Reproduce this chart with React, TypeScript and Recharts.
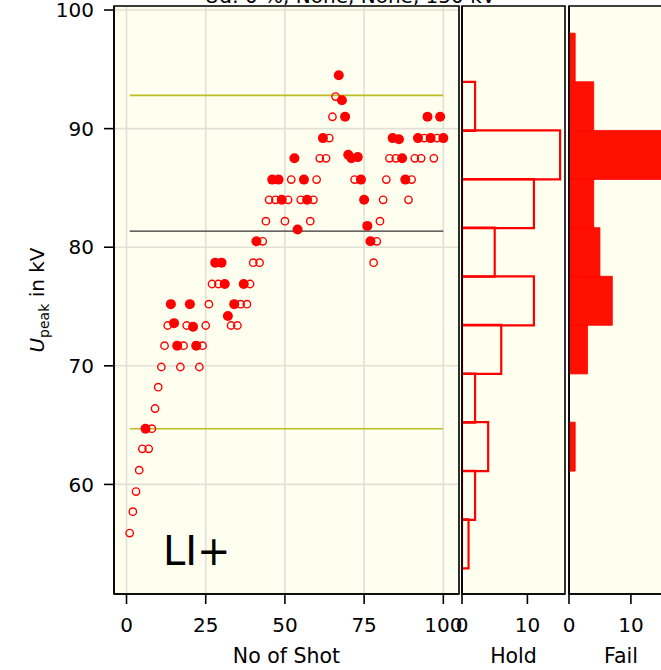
import React from 'react'
import {
  ScatterChart,
  Scatter,
  BarChart,
  Bar,
  XAxis,
  YAxis,
  CartesianGrid,
  ReferenceLine,
  ReferenceArea,
} from 'recharts'

// shots that held, and their peak voltage in kV
const holdShots = [
  1, 2, 3, 4, 5, 7, 8, 9, 10, 11, 12, 13, 17, 18, 19, 23, 24, 25, 26, 27, 29, 33, 35, 36, 38, 39, 40, 42, 43, 44,
  45, 47, 50, 51, 52, 55, 58, 59, 60, 61, 63, 64, 65, 66, 72, 78, 79, 80, 81, 82, 83, 85, 89, 90, 91, 93, 94, 97, 98,
]
const holdVolts = [
  55.9, 57.7, 59.4, 61.2, 63.0, 63.0, 64.7, 66.4, 68.2, 69.9, 71.7, 73.4, 69.9, 71.7, 73.4, 69.9, 71.7, 73.4, 75.2,
  76.9, 76.9, 73.4, 73.4, 75.2, 75.2, 76.9, 78.7, 78.7, 80.5, 82.2, 84.0, 84.0, 82.2, 84.0, 85.7, 84.0, 82.2, 84.0,
  85.7, 87.5, 87.5, 89.2, 91.0, 92.7, 85.7, 78.7, 80.5, 82.2, 84.0, 85.7, 87.5, 87.5, 84.0, 85.7, 87.5, 87.5, 89.2,
  87.5, 89.2,
]

// shots that failed (breakdown)
const failShots = [
  6, 14, 15, 16, 20, 21, 22, 28, 30, 31, 32, 34, 37, 41, 46, 48, 49, 53, 54, 56, 57, 62, 67, 68, 69, 70, 71, 73, 74,
  75, 76, 77, 84, 86, 87, 88, 92, 95, 96, 99, 100,
]
const failVolts = [
  64.7, 75.2, 73.6, 71.7, 75.2, 73.3, 71.7, 78.7, 78.7, 76.9, 74.2, 75.2, 76.9, 80.5, 85.7, 85.7, 84.0, 87.5, 81.5,
  85.7, 84.0, 89.2, 94.5, 92.4, 91.0, 87.8, 87.5, 87.6, 85.7, 84.0, 81.8, 80.5, 89.2, 89.1, 87.5, 85.7, 89.2, 91.0,
  89.2, 91.0, 89.2,
]

// histogram bins (centre in kV) and counts
const binMids = [55.0, 59.1, 63.2, 67.3, 71.4, 75.5, 79.6, 83.7, 87.8, 91.9, 96.0]
const holdCounts = [1, 2, 4, 2, 6, 11, 5, 11, 15, 2, 0]
const failCounts = [0, 0, 1, 0, 3, 7, 5, 4, 16, 4, 1]

const shotTicks = [0, 25, 50, 75, 100]
const voltTicks = [60, 70, 80, 90, 100]
const countTicks = [0, 10]

const upperLine = 92.8
const meanLine = 81.35
const lowerLine = 64.7
const lineFrom = 1
const lineTo = 100

const X_DOMAIN: [number, number] = [-3.95, 104.95]
const Y_DOMAIN: [number, number] = [50.76, 100.34]
const HOLD_MAX = 15.75
const FAIL_MAX = 16.8

const FONT = 'DejaVu Sans'
const BG = '#fffff0'
const RED = '#ff0000'
const tickStyle = { fill: '#000', fontSize: 20, fontFamily: FONT }

const holdData = holdShots.map((x, i) => ({ x, y: holdVolts[i] }))
const failData = failShots.map((x, i) => ({ x, y: failVolts[i] }))
const histData = binMids.map((mid, i) => ({ mid, hold: holdCounts[i], fail: failCounts[i] }))

const openDot = (p: any) => <circle cx={p.cx} cy={p.cy} r={3.7} fill="none" stroke={RED} strokeWidth={1.4} />
const fullDot = (p: any) => <circle cx={p.cx} cy={p.cy} r={5} fill={RED} />

const bottomLabel = (text: string) => ({
  content: ({ viewBox }: any) => (
    <text
      x={viewBox.x + viewBox.width / 2}
      y={viewBox.y + 69}
      textAnchor="middle"
      fontSize={20.5}
      fontFamily={FONT}
      fill="#000"
    >
      {text}
    </text>
  ),
})

const abs = { position: 'absolute' as const, left: 0, top: 0 }

function Histogram({ dataKey, max, left, right, width, filled, label }: any) {
  return (
    <BarChart
      layout="vertical"
      width={width}
      height={670}
      data={histData}
      margin={{ top: 6, right, bottom: 0, left: 0 }}
      barCategoryGap={0}
      barGap={0}
      style={abs}
    >
      <CartesianGrid fill={BG} fillOpacity={1} stroke="none" />
      <XAxis
        type="number"
        domain={[0, max]}
        allowDataOverflow
        ticks={countTicks}
        interval={0}
        height={76}
        tickSize={10}
        tickMargin={14}
        stroke="#000"
        strokeWidth={1.6}
        tick={tickStyle}
        label={bottomLabel(label)}
      />
      <YAxis
        type="number"
        dataKey="mid"
        domain={Y_DOMAIN}
        allowDataOverflow
        reversed
        ticks={voltTicks}
        interval={0}
        width={left}
        tickSize={10}
        tick={false}
        stroke="#000"
        strokeWidth={1.6}
      />
      <Bar
        dataKey={dataKey}
        fill={filled ? '#ff1000' : 'none'}
        stroke={RED}
        strokeWidth={filled ? 0.8 : 2.2}
        isAnimationActive={false}
      />
      <ReferenceArea x1={0} x2={max} y1={Y_DOMAIN[0]} y2={Y_DOMAIN[1]} fill="none" stroke="#000" strokeWidth={1.6} />
    </BarChart>
  )
}

export default function App() {
  return (
    <div style={{ ...abs, width: 661, height: 670, overflow: 'hidden', background: '#fff' }}>
      <ScatterChart width={661} height={670} margin={{ top: 6, right: 202, bottom: 0, left: 0 }} style={abs}>
        <CartesianGrid fill={BG} fillOpacity={1} stroke="#e0e0d6" strokeWidth={1.6} />
        <XAxis
          type="number"
          dataKey="x"
          domain={X_DOMAIN}
          allowDataOverflow
          ticks={shotTicks}
          interval={0}
          height={76}
          tickSize={10}
          tickMargin={14}
          stroke="#000"
          strokeWidth={1.6}
          tick={tickStyle}
          label={bottomLabel('No of Shot')}
        />
        <YAxis
          type="number"
          dataKey="y"
          domain={Y_DOMAIN}
          allowDataOverflow
          ticks={voltTicks}
          interval={0}
          width={114}
          tickSize={10}
          tickMargin={10}
          stroke="#000"
          strokeWidth={1.6}
          tick={tickStyle}
        />
        <ReferenceLine
          segment={[{ x: lineFrom, y: upperLine }, { x: lineTo, y: upperLine }]}
          stroke="#bcbd22"
          strokeWidth={1.6}
        />
        <ReferenceLine
          segment={[{ x: lineFrom, y: lowerLine }, { x: lineTo, y: lowerLine }]}
          stroke="#bcbd22"
          strokeWidth={1.6}
        />
        <ReferenceLine
          segment={[{ x: lineFrom, y: meanLine }, { x: lineTo, y: meanLine }]}
          stroke="#333"
          strokeWidth={1.3}
        />
        <Scatter data={holdData} shape={openDot} isAnimationActive={false} />
        <Scatter data={failData} shape={fullDot} isAnimationActive={false} />
        <ReferenceArea
          x1={X_DOMAIN[0]}
          x2={X_DOMAIN[1]}
          y1={Y_DOMAIN[0]}
          y2={Y_DOMAIN[1]}
          fill="none"
          stroke="#000"
          strokeWidth={1.6}
        />
        <g fontFamily={FONT} fill="#000">
          <text x={350} y={2.5} textAnchor="middle" fontSize={20}>
            Ud: 0 %, None, None, 150 kV
          </text>
          <text x={163} y={565} fontSize={40}>
            LI+
          </text>
          <text transform="translate(44,300) rotate(-90)" textAnchor="middle" fontSize={20}>
            <tspan fontStyle="italic">U</tspan>
            <tspan fontSize={14} dy={5}>
              peak
            </tspan>
            <tspan dy={-5}> in kV</tspan>
          </text>
        </g>
      </ScatterChart>
      <Histogram dataKey="hold" max={HOLD_MAX} left={462} right={96} width={661} label="Hold" />
      <Histogram dataKey="fail" max={FAIL_MAX} left={569} right={27} width={700} filled label="Fail" />
    </div>
  )
}
